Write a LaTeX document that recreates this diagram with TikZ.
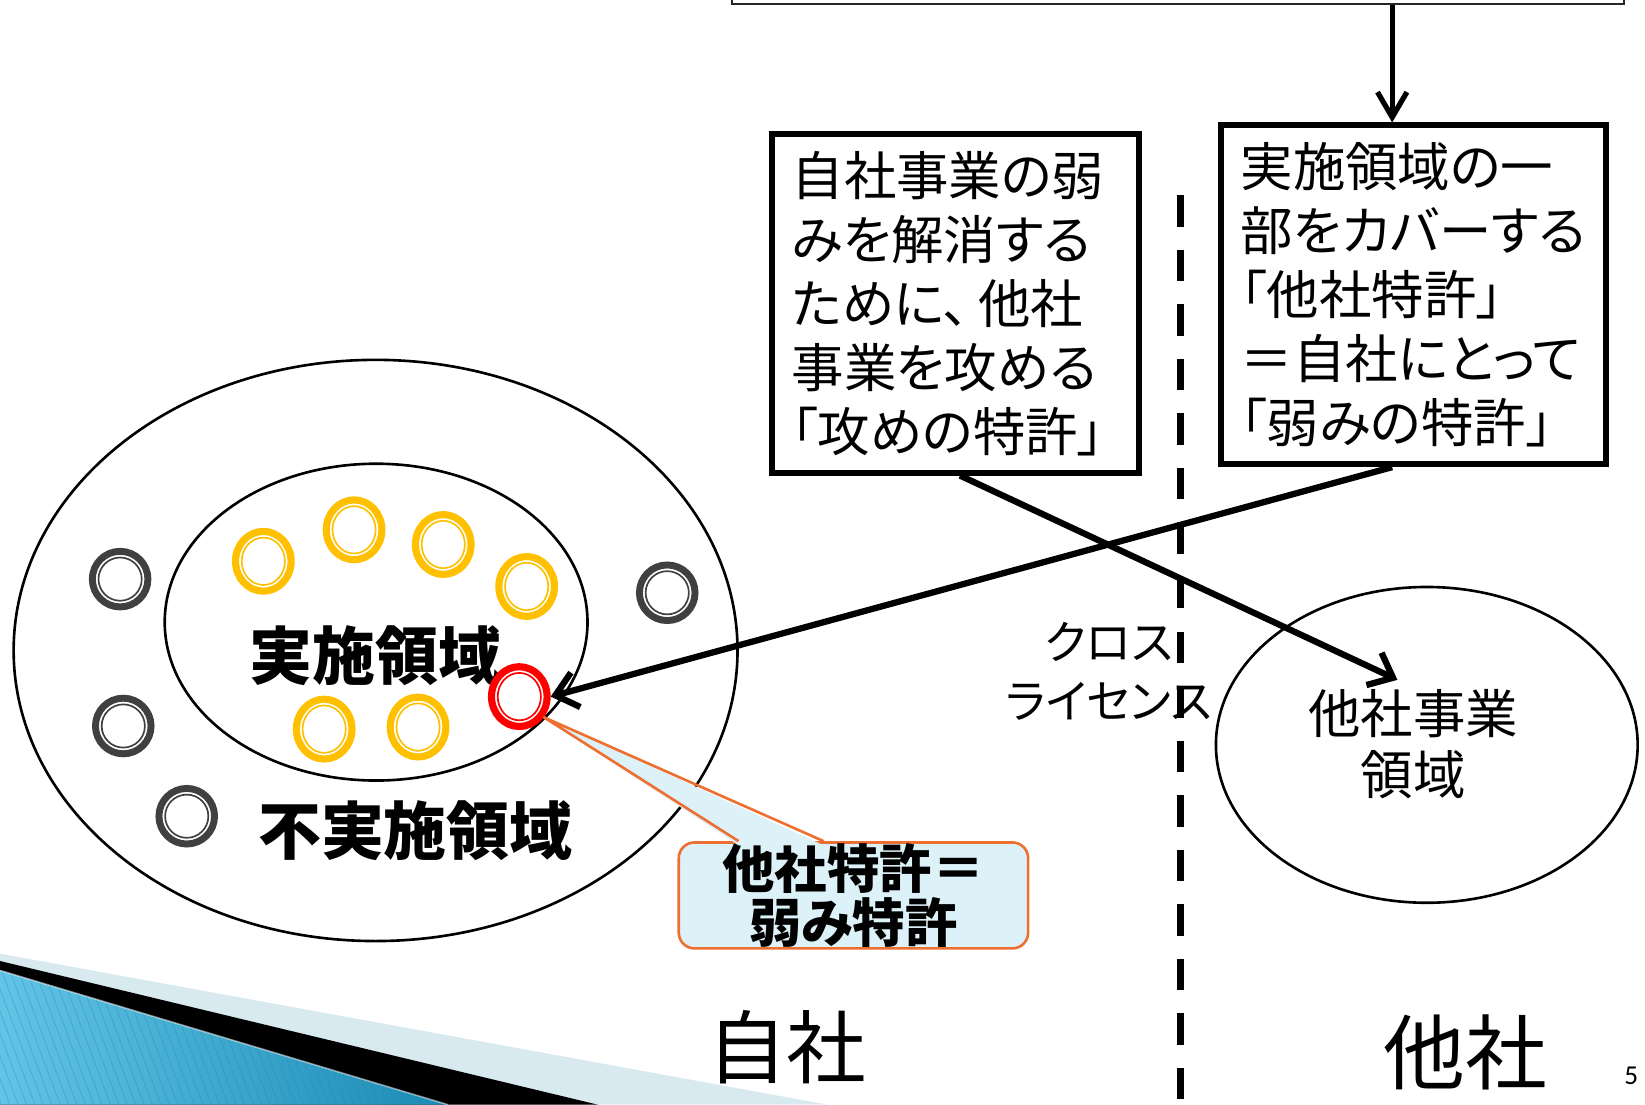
\documentclass[tikz,border=0pt]{standalone}
\usepackage{fontspec}
\setmainfont{Noto Sans CJK JP}[RawFeature=+palt]
\newfontfamily\numfont{Carlito}
\usetikzlibrary{arrows.meta,shapes.geometric,calc}
\definecolor{ringgray}{HTML}{404040}
\definecolor{ringyellow}{HTML}{FFC000}
\definecolor{ringred}{HTML}{FF0000}
\definecolor{calloutfill}{HTML}{DDF2F8}
\definecolor{calloutedge}{HTML}{EE7030}
\definecolor{paleband}{HTML}{D9E9F0}
\definecolor{blueA}{HTML}{62C4E6}
\definecolor{blueB}{HTML}{1B8BB4}
\tikzset{
  region/.style={ellipse, draw=black, line width=2.5pt, inner sep=0pt},
  patring/.style={ellipse, draw=#1, line width=6.8pt, minimum width=53pt, minimum height=57pt, inner sep=0pt,
    path picture={\draw[#1, line width=1.6pt] (path picture bounding box.center) ellipse [x radius=20.6pt, y radius=22.6pt];}},
  grayring/.style={circle, draw=ringgray, line width=6.6pt, minimum size=53pt, inner sep=0pt,
    path picture={\draw[ringgray, line width=1.6pt] (path picture bounding box.center) circle [radius=20.6pt];}},
  textbox/.style={draw=black, line width=5.5pt, inner xsep=19pt, inner ysep=0pt, align=left, minimum height=323pt,
    font=\fontsize{50pt}{61pt}\selectfont},
  arr/.style={line width=6pt, -{Straight Barb[length=20pt,width=34pt]}},
  toparr/.style={line width=5pt, -{Straight Barb[length=24pt,width=28pt]}},
  bigbold/.style={font=\bfseries\fontsize{60pt}{60pt}\selectfont, inner sep=0pt},
  plainlabel/.style={align=center, inner sep=0pt},
  calloutbox/.style={draw=calloutedge, line width=2.5pt, fill=calloutfill, rounded corners=15pt,
    minimum width=333pt, minimum height=101pt, inner sep=0pt, align=center,
    font=\bfseries\fontsize{50pt}{52pt}\selectfont},
  dashline/.style={line width=6.5pt, dash pattern=on 30pt off 22pt}
}
\begin{document}
\begin{tikzpicture}[x=1pt,y=-1pt]
\useasboundingbox (0,0) rectangle (1568,1053);
\clip (0,0) rectangle (1568,1053);
\fill[white] (0,0) rectangle (1568,1053);

% bottom-left decoration
\fill[paleband] (0,909) -- (789,1053) -- (0,1053) -- cycle;
\fill[black] (0,916) -- (570,1053) -- (0,1053) -- cycle;
\shade[left color=blueA, right color=blueB] (0,925) -- (427,1053) -- (0,1053) -- cycle;
\begin{scope}
  \clip (0,925) -- (427,1053) -- (0,1053) -- cycle;
  \foreach \i in {-120,-112,...,440} \draw[blueB, opacity=0.35, line width=0.8pt] (\i,900) -- (\i+60,1060);
\end{scope}
\draw[white, opacity=0.5, line width=1.5pt] (0,925) -- (427,1053);

% regions
\node[region, minimum width=690pt, minimum height=554pt] (outer) at (358,620) {};
\node[region, minimum width=403pt, minimum height=302pt] (inner) at (358.5,593) {};
\node[region, minimum width=402pt, minimum height=301pt] (other) at (1360,710) {};

% patents
\node[patring=ringyellow] (y1) at (251,535) {};
\node[patring=ringyellow] (y2) at (337.5,505) {};
\node[patring=ringyellow] (y3) at (422.5,519) {};
\node[patring=ringyellow] (y4) at (502,559) {};
\node[patring=ringyellow] (y5) at (309,695) {};
\node[patring=ringyellow] (y6) at (398.5,693) {};
\node[grayring] (g1) at (114.5,552) {};
\node[grayring] (g2) at (117.5,692) {};
\node[grayring] (g3) at (178,778) {};
\node[grayring] (g4) at (636,565) {};

% region labels
\node[bigbold] (implab) at (358,625) {実施領域};
\node[bigbold] (nonimplab) at (396,792) {不実施領域};

% callout
\node[calloutbox] (callout) at (813.5,853.5) {他社特許＝\\弱み特許};
\coordinate (cl) at ([shift={(-109.5,4)}]callout.north);
\coordinate (cr) at ([shift={(-28.5,4)}]callout.north);
\node[patring=ringred] (red) at (495,664) {};
\fill[calloutfill] (cl) -- (red.-40) -- (cr) -- cycle;
\draw[calloutedge, line width=2.5pt, line join=round] ([shift={(0,-4)}]cl) -- (red.-40) -- ([shift={(0,-4)}]cr);

% divider
\coordinate (dtop) at (1125,186);
\coordinate (dbot) at (1125,1070);
\draw[dashline] (dtop) -- (dbot);

% boxes
\node[draw=black!85, line width=2pt, minimum width=850pt, minimum height=40pt, inner sep=0pt] (topbox) at (1123,-16) {};
\node[textbox, text width=312pt] (attack) at (910.5,289) {自社事業の弱\\みを解消する\\ために、\hspace{9pt}他社\\事業を攻める\\「攻めの特許」};
\node[textbox, text width=329pt] (cover) at (1347,281) {実施領域の一\\部をカバーする\\「他社特許」\\＝自社にとって\\「弱みの特許」};

% arrows
\draw[toparr] ([shift={(204,0)}]topbox.south) -- ([shift={(-20,0)}]cover.north);
\draw[arr] ([shift={(-20,0)}]cover.south) -- (red.east);
\draw[arr] ([shift={(4.5,0)}]attack.south) -- ([shift={(-28,-62)}]other.center);

% other labels
\node[plainlabel, font=\fontsize{44pt}{56pt}\selectfont] (cross) at (1057,640) {クロス\\ライセンス};
\node[plainlabel, font=\fontsize{50pt}{58pt}\selectfont] (otherlab) at (1347,709) {他社事業\\領域};
\node[plainlabel, font=\fontsize{76pt}{76pt}\selectfont] (self) at (750,998) {自社};
\node[plainlabel, font=\fontsize{78pt}{78pt}\selectfont] (rival) at (1397,1003) {他社};
\node[plainlabel, font=\numfont\fontsize{26pt}{26pt}\selectfont] (pnum) at (1555,1025) {5};
\end{tikzpicture}
\end{document}
